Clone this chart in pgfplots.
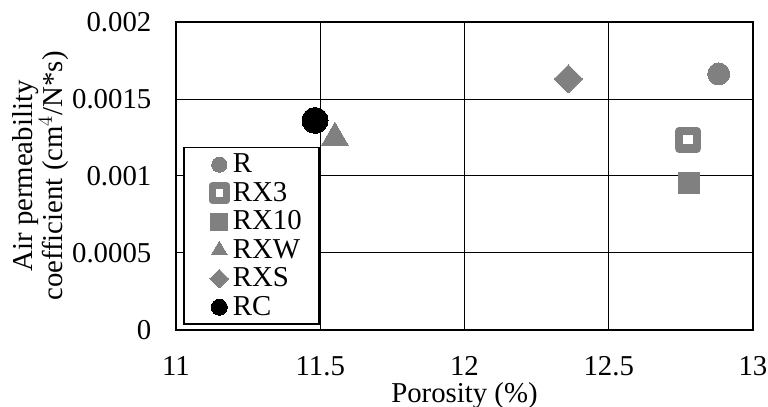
\documentclass[border=0pt]{standalone}
\usepackage{fontspec}
\setmainfont{Liberation Serif}
\usepackage{pgfplots}
\pgfplotsset{compat=1.18}
\usetikzlibrary{calc}
\definecolor{mk}{RGB}{128,128,128}
\begin{document}
\begin{tikzpicture}
\begin{axis}[
  scale only axis,
  width=288.5pt, height=154pt,
  xmin=11, xmax=13, ymin=0, ymax=0.002,
  xtick={11,11.5,12,12.5,13},
  ytick={0,0.0005,0.001,0.0015,0.002},
  yticklabels={0,0.0005,0.001,0.0015,0.002},
  scaled y ticks=false,
  /pgf/number format/assume math mode=true,
  tick label style={font=\fontsize{14.4}{16}\selectfont},
  yticklabel shift=8.8pt,
  xticklabel shift=9.8pt,
  label style={font=\fontsize{14.4}{15}\selectfont},
  major tick length=0pt,
  grid=major,
  major grid style={black, line width=0.5pt},
  axis line style={black, line width=1.1pt},
  xlabel={Porosity (\%)},
  xlabel style={yshift=3.5pt},
  ylabel={Air permeability\\coefficient (cm$^4$/N*s)},
  ylabel style={align=center, yshift=-5pt},
  legend cell align=left,
  legend style={at={(0.012,0.016)}, anchor=south west, draw=black, line width=0.8pt,
    font=\fontsize{14.4}{14}\selectfont, inner xsep=6.5pt, inner ysep=1pt, row sep=-0.75pt,
    /tikz/every even column/.append style={column sep=0pt}},
  legend image code/.code={\path (0pt,0pt) (12.5pt,0pt); \draw[#1] plot coordinates {(9.5pt,0pt)};},
  clip=false,
]
\addplot[only marks, mark=*, mark size=5.5pt, color=mk, line width=0pt,
  legend image post style={mark size=3.8pt}] coordinates {(12.881,0.001663)};
\addlegendentry{R}
\addplot[only marks, mark=square, mark size=4.4pt, draw=mk, fill=white, line width=4.2pt, line join=round,
  mark options={draw=mk, fill=white, line join=round},
  legend image post style={mark size=3.6pt, line width=3.6pt}] coordinates {(12.775,0.001235)};
\addlegendentry{RX3}
\addplot[only marks, mark=square*, mark size=5.3pt, color=mk, line width=0pt,
  legend image post style={mark size=4.2pt}] coordinates {(12.779,0.000955)};
\addlegendentry{RX10}
\addplot[only marks, mark=triangle*, mark size=7.7pt, color=mk, line width=0pt,
  legend image post style={mark size=4.6pt}] coordinates {(11.551,0.00125)};
\addlegendentry{RXW}
\addplot[only marks, mark=square*, mark size=5pt, color=mk, line width=0pt, mark options={rotate=45},
  legend image post style={mark size=3.3pt}] coordinates {(12.360,0.001631)};
\addlegendentry{RXS}
\addplot[only marks, mark=*, mark size=6.5pt, color=black, line width=0pt,
  legend image post style={mark size=4pt}] coordinates {(11.482,0.001361)};
\addlegendentry{RC}
\coordinate (bl) at (rel axis cs:0,0);
\end{axis}
\pgfresetboundingbox
\path ($(bl)+(-88pt,-38.5pt)$) rectangle ($(bl)+(296pt,165pt)$);
\end{tikzpicture}
\end{document}
